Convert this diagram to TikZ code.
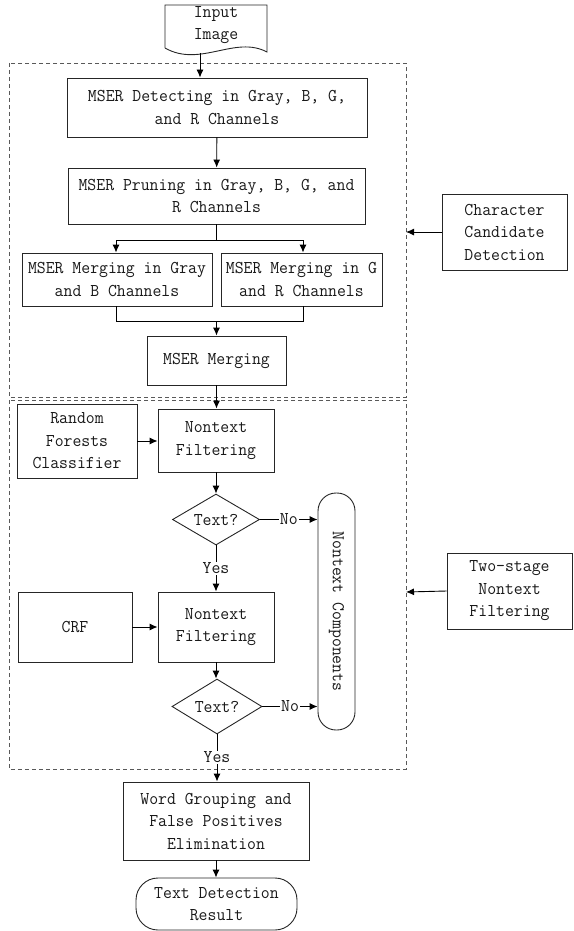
\documentclass[tikz,border=0pt]{standalone}
\usepackage{fontspec}
\usetikzlibrary{arrows.meta,shapes.geometric}
\newfontfamily\flowfont[FakeStretch=0.96]{Latin Modern Mono}
\tikzset{
  every node/.style={font=\flowfont\fontsize{18}{22.5}\selectfont, text=black!90},
  stepbox/.style={draw=black!85, line width=0.9pt, inner sep=0pt, align=center},
  decide/.style={draw=black!85, line width=0.9pt, diamond, inner sep=0pt},
  flow/.style={draw=black, line width=0.9pt, -{Latex[length=8pt,width=7pt]}},
  plain/.style={draw=black, line width=0.9pt},
  stage/.style={draw=black!65, line width=0.9pt, dash pattern=on 4pt off 3pt},
  tag/.style={fill=white, inner sep=1pt}
}
\begin{document}
\begin{tikzpicture}[x=1pt,y=-1pt]
\useasboundingbox (0,0) rectangle (573,931);

% stage frames
\draw[stage] (9,63) rectangle (406,397);
\draw[stage] (9,400) rectangle (406,769);

% input document
\draw[line width=0.9pt, draw=black!85] (165,48) -- (165,5) -- (267,5) -- (267,52)
  .. controls (235,35) and (200,68) .. (165,48);
\node (input) at (216,25) [align=center] {Input\\Image};
\coordinate (inbot) at (200,53);

% first stage
\node[stepbox, minimum width=300pt, minimum height=59pt] (det) at (217,107.5)
  {MSER Detecting in Gray, B, G,\\and R Channels};
\node[stepbox, minimum width=297pt, minimum height=56pt] (prune) at (216.5,196)
  {MSER Pruning in Gray, B, G, and\\R Channels};
\node[stepbox, minimum width=190pt, minimum height=53pt] (mgb) at (117,279.5)
  {MSER Merging in Gray\\and B Channels};
\node[stepbox, minimum width=161pt, minimum height=53pt] (mgr) at (301.5,279.5)
  {MSER Merging in G\\and R Channels};
\node[stepbox, minimum width=139pt, minimum height=49pt] (merge) at (216.5,360.5)
  {MSER Merging};

% second stage
\node[stepbox, minimum width=116pt, minimum height=63pt] (nf1) at (216,440.5)
  {Nontext\\Filtering};
\node[stepbox, minimum width=120pt, minimum height=74pt] (rf) at (77,441)
  {Random\\Forests\\Classifier};
\node[decide, minimum width=87pt, minimum height=51pt, label=center:{Text?}] (d1) at (216,519.5) {};
\node[stepbox, rounded corners=18pt, minimum width=37pt, minimum height=237pt] (ntc) at (336.5,611.5) {};
\node[rotate=-90] at (ntc.center) {Nontext Components};
\node[stepbox, minimum width=114pt, minimum height=70pt] (crf) at (75,627) {CRF};
\node[stepbox, minimum width=116pt, minimum height=70pt] (nf2) at (216,627)
  {Nontext\\Filtering};
\node[decide, minimum width=90pt, minimum height=55pt, label=center:{Text?}] (d2) at (217,706.5) {};

% final steps
\node[stepbox, minimum width=186pt, minimum height=78pt] (word) at (216,821)
  {Word Grouping and\\False Positives\\Elimination};
\node[stepbox, rounded corners=22pt, minimum width=161pt, minimum height=52pt] (result) at (216.5,904)
  {Text Detection\\Result};

% stage captions
\node[stepbox, minimum width=125pt, minimum height=76pt] (ccd) at (504.5,232)
  {Character\\Candidate\\Detection};
\node[stepbox, minimum width=125pt, minimum height=76pt] (tsn) at (509.5,591)
  {Two-stage\\Nontext\\Filtering};
\coordinate (e1) at (406,232);
\coordinate (e2) at (406,592);

% connectors
\draw[flow] (inbot) -- (inbot |- det.north);
\draw[flow] (det) -- (prune);
\coordinate (sl) at (116,240);
\coordinate (sr) at (303,240);
\draw[plain] (prune.south) -- (prune.south |- sl);
\draw[plain] (sl) -- (sr);
\draw[flow] (sl) -- (sl |- mgb.north);
\draw[flow] (sr) -- (sr |- mgr.north);
\coordinate (jl) at (116,321);
\coordinate (jr) at (303,321);
\draw[plain] (jl |- mgb.south) -- (jl) -- (jr) -- (jr |- mgr.south);
\draw[flow] (merge.north |- jl) -- (merge.north);
\draw[flow] (merge.south) -- (merge.south |- nf1.north);
\draw[flow] (rf.east) -- (rf.east -| nf1.west);
\draw[flow] (nf1.south) -- (d1.north);
\draw[flow] (d1.east) -- node[tag] {No} (d1.east -| ntc.west);
\draw[flow] (d1.south) -- node[tag] {Yes} (d1.south |- nf2.north);
\draw[flow] (crf.east) -- (nf2.west);
\draw[flow] (nf2.south) -- (nf2.south |- d2.north);
\draw[flow] (d2.east) -- node[tag] {No} (d2.east -| ntc.west);
\draw[flow] (d2.south) -- node[tag, pos=0.48] {Yes} (d2.south |- word.north);
\draw[flow] (word.south) -- (word.south |- result.north);
\draw[flow] (ccd.west) -- (e1);
\draw[flow] (tsn.west) -- (e2);
\end{tikzpicture}
\end{document}
